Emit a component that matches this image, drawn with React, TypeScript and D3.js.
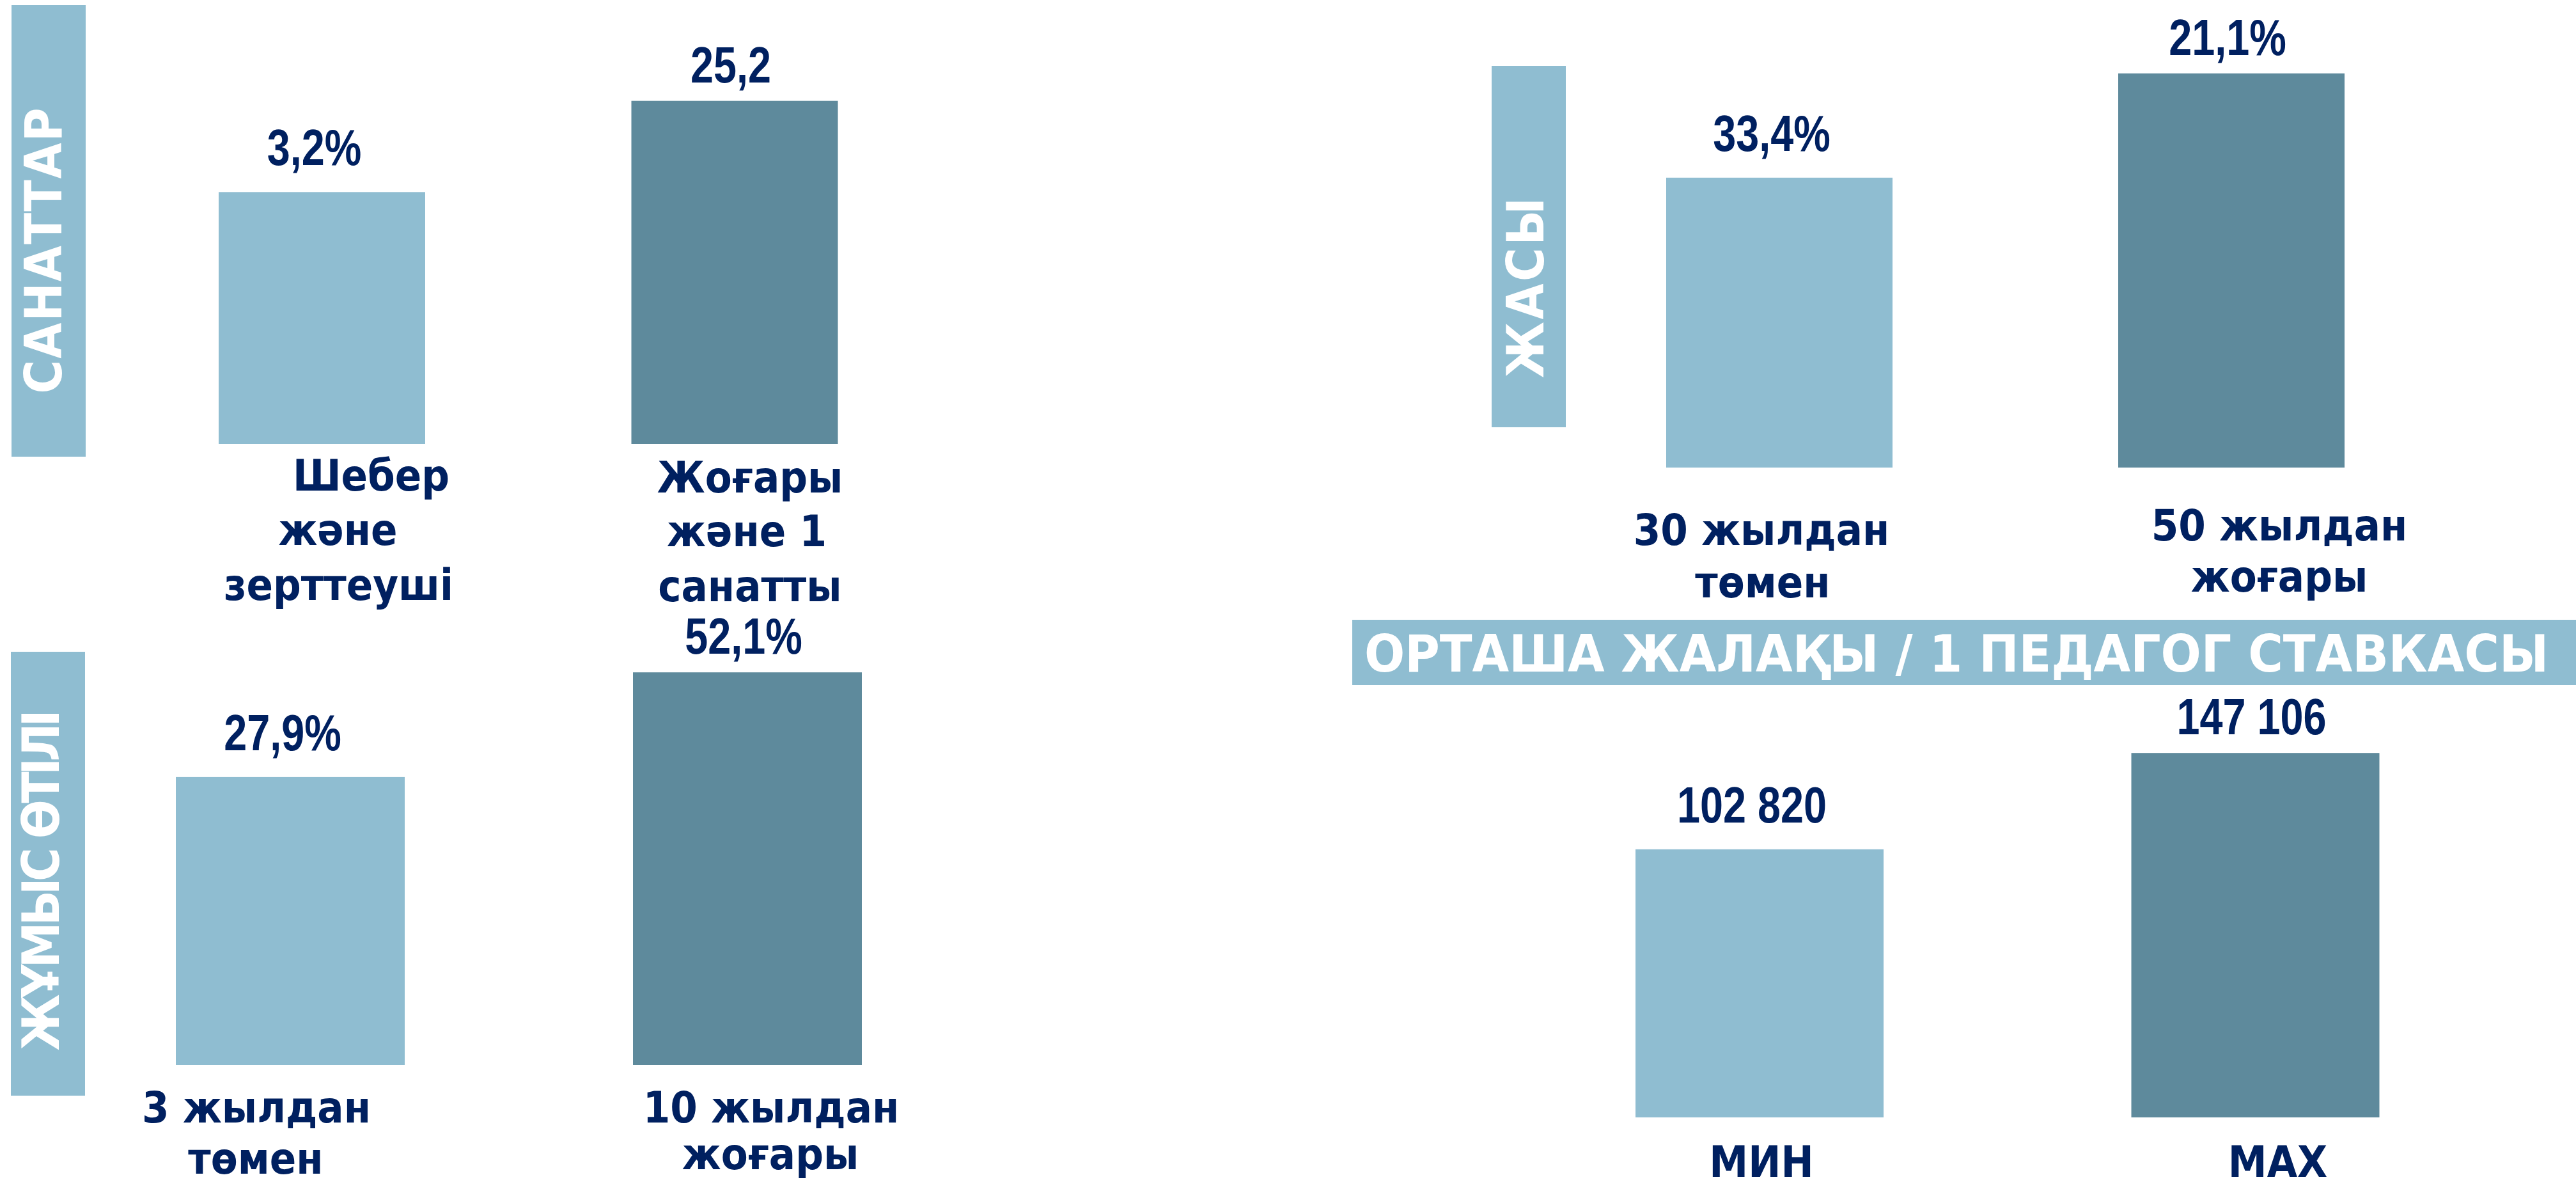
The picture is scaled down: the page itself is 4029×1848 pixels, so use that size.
import React, { useEffect } from "react";
import * as d3 from "d3";

// ---------- DATA ----------
// Note: in the source infographic the bar heights are not proportional to the
// printed values, so the drawn bar levels (relative units, 0-100) are kept
// separately from the printed value labels.
const sanattarTitle = "САНАТТАР";
const sanattarCategories = [["Шебер", "және", "зерттеуші"], ["Жоғары", "және 1", "санатты"]];
const sanattarValueLabels = ["3,2%", "25,2"];
const sanattarBarLevels = [63.5, 86.5];

const jasyTitle = "ЖАСЫ";
const jasyCategories = [["30 жылдан", "төмен"], ["50 жылдан", "жоғары"]];
const jasyValueLabels = ["33,4%", "21,1%"];
const jasyBarLevels = [73.1, 99.4];

const otiliTitle = "ЖҰМЫС ӨТІЛІ";
const otiliCategories = [["3 жылдан", "төмен"], ["10 жылдан", "жоғары"]];
const otiliValueLabels = ["27,9%", "52,1%"];
const otiliBarLevels = [72.6, 99.0];

const salaryTitle = "ОРТАША ЖАЛАҚЫ / 1 ПЕДАГОГ СТАВКАСЫ";
const salaryCategories = [["МИН"], ["МАХ"]];
const salaryValues = [102820, 147106];
const salaryBarLevels = [67.6, 91.9];

// ---------- STYLE ----------
const W = 4029;
const H = 1848;
const LIGHT = "#8FBDD1";
const DARK = "#5E8A9C";
const NAVY = "#002060";
const barColors = [LIGHT, DARK];
const CAT_FONT = "'DejaVu Sans Condensed', 'DejaVu Sans', sans-serif";
const NUM_FONT = "'Liberation Sans', Arial, sans-serif";
const TITLE_FONT = "'DejaVu Sans', sans-serif";
const NUM_NARROW = 0.82; // emulate a narrow bold face

const fmtSalary = (v: number) => d3.format(",")(v).replace(/,/g, " ");

// height scale shared by every panel (relative level -> pixels)
const hScale = d3.scaleLinear().domain([0, 100]).range([0, 620]);

type Panel = {
  key: string;
  title: string;
  cats: string[][];
  values: string[];
  levels: number[];
  centers: [number, number];
  barW: number;
  base: number;
  lineDx: number[][];
  lineY: number[][];
  vTitle?: { bx: number; by: number; bw: number; bh: number; tx: number; cy: number; len: number };
};

const panels: Panel[] = [
  {
    key: "sanattar",
    title: sanattarTitle,
    cats: sanattarCategories,
    values: sanattarValueLabels,
    levels: sanattarBarLevels,
    centers: [503.5, 1149],
    barW: 323,
    base: 694,
    lineDx: [[77, 25, 26], [24, 19, 24]],
    lineY: [[767, 852, 938], [770, 854, 940]],
    vTitle: { bx: 18, by: 8, bw: 116, bh: 706, tx: 96, cy: 392, len: 447 },
  },
  {
    key: "jasy",
    title: jasyTitle,
    cats: jasyCategories,
    values: jasyValueLabels,
    levels: jasyBarLevels,
    centers: [2783, 3490],
    barW: 354,
    base: 731,
    lineDx: [[-28, -26], [75, 75]],
    lineY: [[852, 934], [845, 925]],
    vTitle: { bx: 2333, by: 103, bw: 116, bh: 565, tx: 2414, cy: 450, len: 282 },
  },
  {
    key: "otili",
    title: otiliTitle,
    cats: otiliCategories,
    values: otiliValueLabels,
    levels: otiliBarLevels,
    centers: [454, 1169],
    barW: 358,
    base: 1665,
    lineDx: [[-53, -54], [37, 36]],
    lineY: [[1755, 1835], [1755, 1828]],
    vTitle: { bx: 17, by: 1019, bw: 116, bh: 694, tx: 92, cy: 1376, len: 533 },
  },
  {
    key: "salary",
    title: salaryTitle,
    cats: salaryCategories,
    values: salaryValues.map(fmtSalary),
    levels: salaryBarLevels,
    centers: [2752, 3527.5],
    barW: 388,
    base: 1747,
    lineDx: [[3], [35]],
    lineY: [[1840], [1840]],
  },
];

const valueGap = [42, 29];
const valueDx = [-12, -6];

function PanelView({ p }: { p: Panel }) {
  const ids = p.cats.map((c) => c.join(" "));
  const x = d3.scalePoint<string>().domain(ids).range(p.centers).padding(0);
  return (
    <g>
      {p.vTitle && (
        <g>
          <rect x={p.vTitle.bx} y={p.vTitle.by} width={p.vTitle.bw} height={p.vTitle.bh} fill={LIGHT} />
          <text
            transform={`translate(${p.vTitle.tx},${p.vTitle.cy}) rotate(-90)`}
            textAnchor="middle"
            fill="#ffffff"
            fontFamily={TITLE_FONT}
            fontWeight="bold"
            fontSize={80}
            textLength={p.vTitle.len}
            lengthAdjust="spacing"
            style={{ fontStretch: "condensed" }}
          >
            {p.title}
          </text>
        </g>
      )}
      {ids.map((id, i) => {
        const cx = x(id) as number;
        const h = hScale(p.levels[i]);
        const top = p.base - h;
        return (
          <g key={id}>
            <rect x={cx - p.barW / 2} y={top} width={p.barW} height={h} fill={barColors[i]} />
            <g transform={`translate(${cx + valueDx[i]},${top - valueGap[i]}) scale(${NUM_NARROW},1)`}>
              <text
                x={0}
                y={0}
                textAnchor="middle"
                fill={NAVY}
                fontFamily={NUM_FONT}
                fontWeight="bold"
                fontSize={79}
              >
                {p.values[i]}
              </text>
            </g>
            {p.cats[i].map((line, j) => (
              <text
                key={j}
                x={cx + p.lineDx[i][j]}
                y={p.lineY[i][j]}
                textAnchor="middle"
                fill={NAVY}
                fontFamily={CAT_FONT}
                fontWeight="bold"
                fontSize={68}
                style={{ fontStretch: "condensed" }}
              >
                {line}
              </text>
            ))}
          </g>
        );
      })}
    </g>
  );
}

export default function App() {
  useEffect(() => {
    document.body.style.margin = "0";
    document.body.style.overflow = "hidden";
  }, []);
  return (
    <svg
      width={W}
      height={H}
      viewBox={`0 0 ${W} ${H}`}
      style={{ position: "absolute", left: 0, top: 0, display: "block", background: "#ffffff" }}
    >
      <rect x={0} y={0} width={W} height={H} fill="#ffffff" />
      {/* salary banner */}
      <rect x={2115} y={969} width={W - 2115} height={102} fill={LIGHT} />
      <text
        x={2134}
        y={1050}
        fill="#ffffff"
        fontFamily={TITLE_FONT}
        fontWeight="bold"
        fontSize={80}
        textLength={1852}
        lengthAdjust="spacingAndGlyphs"
      >
        {salaryTitle}
      </text>
      {panels.map((p) => (
        <PanelView key={p.key} p={p} />
      ))}
    </svg>
  );
}
